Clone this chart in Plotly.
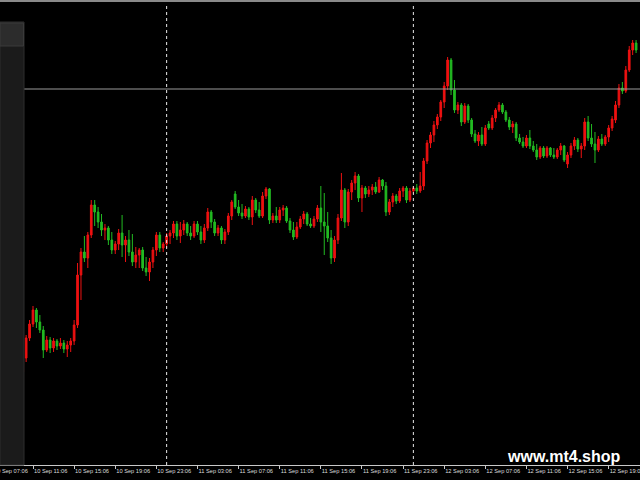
import plotly.graph_objects as go
import pandas as pd

# 20-minute candles, 10 Sep 10:06 -> 12 Sep 21:46
times = pd.date_range("2024-09-10 10:06", periods=180, freq="20min")

open_ = [
    140.93, 141.07, 141.27, 141.41, 141.55, 141.43, 141.35, 141.15, 141.25, 141.17,
    141.24, 141.19, 141.22, 141.16, 141.20, 141.24, 141.40, 141.90, 142.13, 142.07,
    142.30, 142.60, 142.53, 142.43, 142.35, 142.37, 142.25, 142.15, 142.21, 142.32,
    142.20, 142.25, 142.13, 142.03, 142.10, 142.15, 141.97, 141.93, 142.03, 142.15,
    142.30, 142.17, 142.21, 142.29, 142.32, 142.41, 142.29, 142.35, 142.41, 142.32,
    142.29, 142.41, 142.33, 142.25, 142.37, 142.53, 142.43, 142.32, 142.37, 142.25,
    142.33, 142.49, 142.71, 142.58, 142.52, 142.49, 142.56, 142.48, 142.65, 142.55,
    142.49, 142.69, 142.76, 142.45, 142.49, 142.45, 142.55, 142.57, 142.44, 142.35,
    142.28, 142.38, 142.46, 142.51, 142.41, 142.39, 142.46, 142.57, 142.43, 142.39,
    142.27, 142.07, 142.25, 142.47, 142.75, 142.43, 142.73, 142.82, 142.89, 142.67,
    142.77, 142.71, 142.75, 142.78, 142.73, 142.85, 142.79, 142.53, 142.63, 142.69,
    142.64, 142.74, 142.77, 142.65, 142.74, 142.77, 142.74, 142.79, 143.04, 143.22,
    143.30, 143.40, 143.48, 143.63, 143.79, 144.05, 143.75, 143.55, 143.60, 143.43,
    143.59, 143.45, 143.31, 143.24, 143.30, 143.21, 143.41, 143.37, 143.47, 143.55,
    143.60, 143.53, 143.45, 143.38, 143.41, 143.27, 143.23, 143.19, 143.27, 143.19,
    143.15, 143.08, 143.17, 143.09, 143.17, 143.10, 143.08, 143.15, 143.19, 143.01,
    143.10, 143.19, 143.25, 143.16, 143.19, 143.43, 143.27, 143.21, 143.15, 143.26,
    143.21, 143.28, 143.37, 143.45, 143.60, 143.77, 143.74, 143.95, 144.15, 144.22,
]
high = [
    141.13, 141.30, 141.45, 141.59, 141.57, 141.50, 141.39, 141.29, 141.28, 141.27,
    141.26, 141.27, 141.25, 141.24, 141.27, 141.45, 142.02, 142.17, 142.29, 142.33,
    142.65, 142.65, 142.58, 142.51, 142.41, 142.39, 142.33, 142.24, 142.36, 142.50,
    142.29, 142.35, 142.31, 142.18, 142.17, 142.18, 142.08, 142.07, 142.18, 142.33,
    142.33, 142.23, 142.32, 142.35, 142.44, 142.44, 142.43, 142.45, 142.43, 142.39,
    142.44, 142.44, 142.39, 142.41, 142.57, 142.55, 142.46, 142.40, 142.39, 142.36,
    142.52, 142.65, 142.74, 142.65, 142.61, 142.59, 142.58, 142.69, 142.67, 142.63,
    142.73, 142.78, 142.77, 142.52, 142.58, 142.58, 142.60, 142.59, 142.47, 142.43,
    142.43, 142.49, 142.54, 142.53, 142.47, 142.49, 142.60, 142.79, 142.72, 142.53,
    142.35, 142.29, 142.51, 142.92, 142.77, 142.76, 142.85, 142.93, 142.91, 142.80,
    142.79, 142.79, 142.81, 142.83, 142.88, 142.86, 142.83, 142.66, 142.72, 142.71,
    142.77, 142.79, 142.79, 142.77, 142.79, 142.81, 142.93, 143.07, 143.25, 143.33,
    143.44, 143.51, 143.65, 143.83, 144.08, 144.07, 143.85, 143.63, 143.62, 143.62,
    143.61, 143.47, 143.35, 143.33, 143.38, 143.40, 143.44, 143.50, 143.57, 143.63,
    143.62, 143.55, 143.48, 143.44, 143.43, 143.31, 143.28, 143.30, 143.35, 143.24,
    143.21, 143.19, 143.19, 143.19, 143.18, 143.17, 143.17, 143.22, 143.20, 143.13,
    143.22, 143.28, 143.27, 143.22, 143.47, 143.49, 143.41, 143.33, 143.29, 143.31,
    143.30, 143.40, 143.49, 143.64, 143.81, 143.83, 143.99, 144.19, 144.25, 144.25,
]
low = [
    140.90, 141.03, 141.24, 141.38, 141.37, 141.32, 141.07, 141.13, 141.12, 141.13,
    141.15, 141.16, 141.12, 141.08, 141.13, 141.20, 141.37, 141.65, 142.03, 141.97,
    142.27, 142.39, 142.37, 142.29, 142.25, 142.20, 142.11, 142.11, 142.15, 142.08,
    142.03, 142.09, 141.99, 141.97, 141.97, 141.94, 141.89, 141.84, 141.97, 142.09,
    142.13, 142.13, 142.17, 142.21, 142.27, 142.25, 142.22, 142.30, 142.29, 142.25,
    142.27, 142.30, 142.21, 142.22, 142.34, 142.37, 142.29, 142.29, 142.21, 142.21,
    142.30, 142.45, 142.56, 142.49, 142.46, 142.47, 142.45, 142.40, 142.52, 142.47,
    142.47, 142.66, 142.41, 142.42, 142.42, 142.42, 142.49, 142.42, 142.32, 142.25,
    142.26, 142.36, 142.41, 142.39, 142.37, 142.37, 142.43, 142.33, 142.10, 142.23,
    142.01, 142.03, 142.21, 142.44, 142.37, 142.39, 142.65, 142.75, 142.63, 142.53,
    142.67, 142.68, 142.70, 142.71, 142.72, 142.75, 142.49, 142.50, 142.58, 142.61,
    142.62, 142.68, 142.62, 142.63, 142.71, 142.71, 142.72, 142.75, 143.01, 143.17,
    143.23, 143.36, 143.44, 143.57, 143.75, 143.70, 143.52, 143.51, 143.39, 143.41,
    143.42, 143.28, 143.22, 143.19, 143.19, 143.19, 143.35, 143.35, 143.43, 143.53,
    143.51, 143.43, 143.35, 143.32, 143.24, 143.21, 143.17, 143.17, 143.16, 143.13,
    143.05, 143.06, 143.07, 143.07, 143.08, 143.06, 143.06, 143.10, 143.03, 142.97,
    143.07, 143.15, 143.13, 143.07, 143.15, 143.24, 143.18, 143.02, 143.13, 143.19,
    143.19, 143.23, 143.34, 143.42, 143.57, 143.71, 143.72, 143.93, 144.10, 144.12,
]
close = [
    141.07, 141.27, 141.41, 141.55, 141.43, 141.35, 141.15, 141.25, 141.17, 141.24,
    141.19, 141.22, 141.16, 141.20, 141.24, 141.40, 141.90, 142.13, 142.07, 142.30,
    142.60, 142.53, 142.43, 142.35, 142.37, 142.25, 142.15, 142.21, 142.32, 142.20,
    142.25, 142.13, 142.03, 142.10, 142.15, 141.97, 141.93, 142.03, 142.15, 142.30,
    142.17, 142.21, 142.29, 142.32, 142.41, 142.29, 142.35, 142.41, 142.32, 142.29,
    142.41, 142.33, 142.25, 142.37, 142.53, 142.43, 142.32, 142.37, 142.25, 142.33,
    142.49, 142.63, 142.58, 142.52, 142.49, 142.56, 142.48, 142.65, 142.55, 142.49,
    142.69, 142.76, 142.45, 142.49, 142.45, 142.55, 142.57, 142.44, 142.35, 142.28,
    142.38, 142.46, 142.51, 142.41, 142.39, 142.46, 142.57, 142.43, 142.39, 142.27,
    142.07, 142.25, 142.47, 142.75, 142.43, 142.73, 142.82, 142.89, 142.67, 142.77,
    142.71, 142.75, 142.78, 142.73, 142.85, 142.79, 142.53, 142.63, 142.69, 142.64,
    142.74, 142.77, 142.65, 142.74, 142.77, 142.74, 142.79, 143.04, 143.22, 143.30,
    143.40, 143.48, 143.63, 143.79, 144.05, 143.75, 143.55, 143.60, 143.43, 143.59,
    143.45, 143.31, 143.24, 143.30, 143.21, 143.37, 143.37, 143.47, 143.55, 143.60,
    143.53, 143.45, 143.38, 143.41, 143.27, 143.23, 143.19, 143.27, 143.19, 143.15,
    143.08, 143.17, 143.09, 143.17, 143.10, 143.08, 143.15, 143.19, 143.05, 143.10,
    143.19, 143.25, 143.16, 143.19, 143.43, 143.27, 143.21, 143.15, 143.26, 143.21,
    143.28, 143.37, 143.46, 143.60, 143.77, 143.74, 143.95, 144.15, 144.22, 144.15,
]

tick_times = [
    "2024-09-10 11:06", "2024-09-10 15:06", "2024-09-10 19:06", "2024-09-10 23:06",
    "2024-09-11 03:06", "2024-09-11 07:06", "2024-09-11 11:06", "2024-09-11 15:06",
    "2024-09-11 19:06", "2024-09-11 23:06", "2024-09-12 03:06", "2024-09-12 07:06",
    "2024-09-12 11:06", "2024-09-12 15:06", "2024-09-12 19:06",
]
tick_labels = [
    "10 Sep 11:06", "10 Sep 15:06", "10 Sep 19:06", "10 Sep 23:06",
    "11 Sep 03:06", "11 Sep 07:06", "11 Sep 11:06", "11 Sep 15:06",
    "11 Sep 19:06", "11 Sep 23:06", "12 Sep 03:06", "12 Sep 07:06",
    "12 Sep 11:06", "12 Sep 15:06", "12 Sep 19:06",
]
first_tick_time = "2024-09-10 07:06"
first_tick_label = "10 Sep 07:06"
day_separators = ["2024-09-11 00:06", "2024-09-12 00:06"]
price_line = 143.76
x_range = ["2024-09-10 07:53:24", "2024-09-12 22:08:50"]
y_range = [140.00, 144.62]

UP = "#ee1111"
DOWN = "#22bb22"
LABEL_FONT = dict(family="Liberation Sans, Arial", size=5.7, color="#dcdcdc")

fig = go.Figure()
fig.add_trace(go.Candlestick(
    x=times, open=open_, high=high, low=low, close=close,
    increasing=dict(line=dict(color=UP, width=1), fillcolor=UP),
    decreasing=dict(line=dict(color=DOWN, width=1), fillcolor=DOWN),
    whiskerwidth=0, showlegend=False, hoverinfo="skip",
))

# day separators
for d in day_separators:
    fig.add_shape(type="line", xref="x", yref="paper", x0=d, x1=d, y0=0, y1=1,
                  line=dict(color="#e8e8e8", width=1, dash="dot"))

# horizontal price line
fig.add_shape(type="line", xref="paper", yref="y", x0=0, x1=1, y0=price_line, y1=price_line,
              line=dict(color="#9a9a9a", width=1))

# left panel overlay
W, H_PLOT = 640, 462
fig.add_shape(type="rect", xref="paper", yref="paper", x0=0, x1=24 / W, y0=0, y1=(465 - 22) / H_PLOT,
              fillcolor="#1b1b1b", line=dict(color="#2e2e2e", width=1), layer="above")
fig.add_shape(type="rect", xref="paper", yref="paper", x0=0, x1=23.5 / W,
              y0=(465 - 46) / H_PLOT, y1=(465 - 23) / H_PLOT,
              fillcolor="#2c2c2c", line=dict(color="#3a3a3a", width=1), layer="above")
# top border strip
fig.add_shape(type="rect", xref="paper", yref="paper", x0=0, x1=1, y0=1 + 1 / H_PLOT, y1=1 + 3 / H_PLOT,
              fillcolor="#8a8a8a", line=dict(width=0), layer="above")

# first tick label, whose tick lies just left of the visible range (cut off at the edge)
r0, r1 = pd.Timestamp(x_range[0]), pd.Timestamp(x_range[1])
first_paper = (pd.Timestamp(first_tick_time) - r0) / (r1 - r0)
fig.add_annotation(x=first_paper, xref="paper", y=0, yref="paper", yanchor="top", xanchor="left",
                   text=first_tick_label, showarrow=False, font=LABEL_FONT, xshift=0, yshift=-1)

# watermark
fig.add_annotation(x=505 / W, xref="paper", y=(465 - 456) / H_PLOT, yref="paper",
                   xanchor="left", yanchor="middle", text="<b>www.mt4.shop</b>", showarrow=False,
                   font=dict(family="Liberation Sans, Arial", size=16, color="#ffffff"))

fig.update_layout(
    width=640, height=480,
    margin=dict(l=0, r=0, t=3, b=15, pad=0, autoexpand=False),
    paper_bgcolor="#000000", plot_bgcolor="#000000",
    showlegend=False,
    xaxis=dict(
        type="date", range=x_range, rangeslider=dict(visible=False),
        showgrid=False, zeroline=False, automargin=False,
        showline=True, linecolor="#c8c8c8", linewidth=1,
        tickmode="array", tickvals=tick_times, ticktext=tick_labels,
        ticks="outside", ticklen=3, tickcolor="#c8c8c8", tickwidth=1, tickangle=0,
        ticklabelposition="outside right", ticklabeloverflow="allow", tickfont=LABEL_FONT,
        fixedrange=True,
    ),
    yaxis=dict(range=y_range, showgrid=False, zeroline=False, showticklabels=False,
               showline=False, fixedrange=True, automargin=False),
)

fig.write_html(
    "out.html",
    config={"displayModeBar": False},
    post_script="document.body.style.margin='0';document.body.style.background='#000';",
)
